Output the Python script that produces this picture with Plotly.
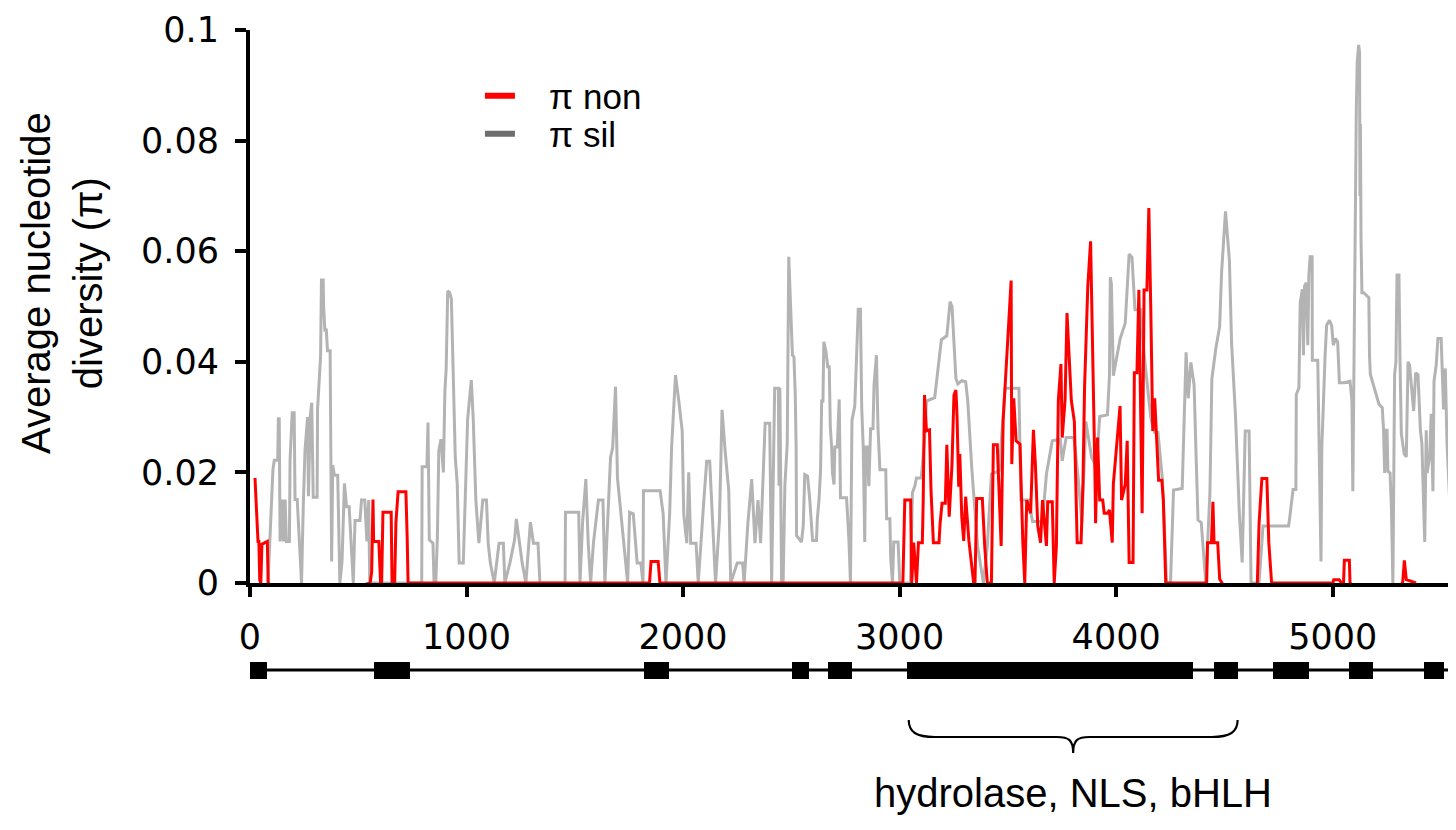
import plotly.graph_objects as go

# sliding-window nucleotide diversity: (position, pi)
pi_sil = [
    (83, 0), (106, 0.0205), (112, 0.0222), (128, 0.0222), (131, 0.0297), (135, 0.0297), (139, 0.0075),
    (148, 0.0151), (154, 0.0075), (162, 0.0151), (168, 0.0075), (182, 0.0075), (185, 0.0222), (195, 0.0308),
    (204, 0.0308), (208, 0.0151), (218, 0.0151), (238, 0), (246, 0.014), (254, 0.024), (266, 0.030),
    (270, 0.0157), (278, 0.030), (285, 0.0326), (292, 0.0155), (310, 0.0155), (312, 0.0315), (318, 0.035),
    (326, 0.041), (330, 0.0548), (338, 0.0548), (340, 0.050), (346, 0.0455), (352, 0.046), (358, 0.042),
    (370, 0.042), (377, 0.0039), (382, 0.0213), (390, 0.0195), (405, 0.0195), (415, 0), (425, 0.0039),
    (436, 0.018), (446, 0.0138), (458, 0.0138), (477, 0), (485, 0.0113), (508, 0.0113), (515, 0.015),
    (530, 0.015), (540, 0.0075), (548, 0.015), (553, 0), (793, 0), (795, 0.021), (817, 0.021), (822, 0.029),
    (828, 0.0078), (845, 0.0072), (850, 0), (858, 0), (865, 0.0078), (872, 0.024), (882, 0.026), (893, 0.020),
    (900, 0.0346), (906, 0.0388), (913, 0.0528), (922, 0.0525), (930, 0.0513), (937, 0.040), (948, 0.0227),
    (957, 0.018), (966, 0.0036), (985, 0.0036), (995, 0.015), (1005, 0.0296), (1022, 0.0367), (1031, 0.0296),
    (1043, 0.015), (1057, 0.0072), (1075, 0.015), (1092, 0.015), (1100, 0.0072), (1110, 0.0036), (1128, 0),
    (1150, 0.0072), (1170, 0.0072), (1177, 0), (1200, 0.0036), (1222, 0.0078), (1230, 0.0116), (1243, 0.0078),
    (1257, 0.0036), (1274, 0), (1295, 0.011), (1309, 0.0072), (1330, 0.0072), (1339, 0), (1455, 0),
    (1457, 0.0128), (1518, 0.0128), (1524, 0), (1536, 0.011), (1551, 0.0188), (1562, 0.0072), (1573, 0),
    (1586, 0.0072), (1609, 0.015), (1630, 0.015), (1639, 0), (1656, 0.0167), (1665, 0.0227), (1675, 0.0245),
    (1688, 0.0355), (1697, 0.019), (1710, 0.0137), (1727, 0.0072), (1744, 0), (1753, 0.0128), (1770, 0.0125),
    (1788, 0.0036), (1805, 0.0036), (1815, 0), (1817, 0.0167), (1894, 0.0167), (1908, 0.0125), (1921, 0),
    (1938, 0.0125), (1947, 0.0245), (1965, 0.0376), (1980, 0.033), (1996, 0.0275), (2003, 0.0125),
    (2017, 0.0072), (2026, 0.020), (2035, 0.0072), (2060, 0.0072), (2070, 0), (2096, 0.015), (2109, 0.022),
    (2123, 0.022), (2137, 0.0113), (2150, 0), (2168, 0.0113), (2180, 0.0313), (2194, 0.024), (2211, 0.0167),
    (2220, 0), (2250, 0.0036), (2275, 0.0036), (2282, 0), (2299, 0.0107), (2317, 0.0188), (2332, 0.0072),
    (2346, 0.015), (2358, 0.0072), (2379, 0.0289), (2400, 0.0289), (2409, 0), (2423, 0.0352), (2440, 0.0352),
    (2443, 0.0176), (2447, 0.0353), (2455, 0), (2462, 0), (2470, 0.0175), (2481, 0.0252), (2488, 0.059),
    (2496, 0.0501), (2505, 0.0412), (2512, 0.0409), (2518, 0.0341), (2522, 0.0249), (2524, 0.0086),
    (2547, 0.0074), (2555, 0.0104), (2562, 0.0196), (2575, 0.0193), (2585, 0.0151), (2592, 0.011),
    (2598, 0.0077), (2616, 0.0077), (2620, 0.0116), (2628, 0.0151), (2635, 0.0205), (2640, 0.0329),
    (2646, 0.0329), (2650, 0.0436), (2660, 0.0418), (2668, 0.0391), (2675, 0.0391), (2680, 0.0282),
    (2686, 0.0246), (2690, 0.0199), (2697, 0.0178), (2701, 0.0246), (2712, 0.0246), (2721, 0.0332),
    (2727, 0.0154), (2755, 0.0154), (2766, 0.0077), (2773, 0), (2780, 0.0294), (2793, 0.032), (2809, 0.0495),
    (2819, 0.0495), (2825, 0.0317), (2832, 0.0246), (2839, 0.0074), (2843, 0.0246), (2850, 0.0246),
    (2858, 0.0175), (2866, 0.0279), (2877, 0.0279), (2882, 0.0359), (2893, 0.0412), (2900, 0.0282),
    (2909, 0.0205), (2936, 0.0205), (2940, 0.0116), (2955, 0.0116), (2959, 0.0044), (2967, 0), (2973, 0.0074),
    (2993, 0.0074), (3001, 0), (3050, 0), (3059, 0.0163), (3070, 0.0175), (3078, 0.019), (3100, 0.019),
    (3115, 0.0258), (3124, 0.0329), (3162, 0.0335), (3182, 0.0409), (3193, 0.044), (3218, 0.0447),
    (3233, 0.0509), (3242, 0.05), (3251, 0.0423), (3260, 0.037), (3269, 0.036), (3287, 0.0366), (3305, 0.0364),
    (3315, 0.0328), (3333, 0.0209), (3360, 0.0067), (3387, 0), (3405, 0.0067), (3424, 0.0197), (3460, 0.0203),
    (3487, 0.0352), (3551, 0.0352), (3560, 0.015), (3596, 0.015), (3614, 0.0111), (3660, 0.0111),
    (3678, 0.0197), (3705, 0.0257), (3742, 0.026), (3751, 0.0221), (3769, 0.0263), (3805, 0.0263),
    (3824, 0.0192), (3842, 0.0109), (3860, 0.0292), (3887, 0.0227), (3909, 0.0209), (3924, 0.0301),
    (3960, 0.0304), (3969, 0.0375), (3973, 0.0553), (3978, 0.0541), (3987, 0.0375), (4018, 0.0441),
    (4042, 0.047), (4060, 0.0595), (4073, 0.0589), (4087, 0.0494), (4114, 0.0494), (4127, 0.0423),
    (4160, 0.0298), (4178, 0.0272), (4193, 0.0272), (4214, 0.0186), (4233, 0), (4251, 0), (4265, 0.0168),
    (4305, 0.0171), (4323, 0.0417), (4333, 0.0334), (4345, 0.0399), (4360, 0.0358), (4369, 0.0233),
    (4378, 0.0114), (4393, 0.0109), (4414, 0), (4433, 0.0162), (4442, 0.0369), (4460, 0.0423), (4478, 0.0464),
    (4487, 0.0562), (4505, 0.0672), (4523, 0.0583), (4533, 0.0435), (4551, 0.0304), (4569, 0.0126),
    (4582, 0.0037), (4596, 0.0275), (4614, 0.0275), (4623, 0), (4660, 0), (4678, 0.0103), (4796, 0.0103),
    (4801, 0.0116), (4817, 0.0169), (4830, 0.0169), (4832, 0.0341), (4844, 0.0353), (4850, 0.0507),
    (4860, 0.0531), (4865, 0.0412), (4870, 0.0537), (4878, 0.0543), (4885, 0.043), (4890, 0.0557),
    (4896, 0.059), (4905, 0.059), (4906, 0.0403), (4931, 0.0403), (4946, 0.0039), (4950, 0.0246), (4954, 0.030),
    (4965, 0.0412), (4972, 0.0466), (4985, 0.0475), (4995, 0.0466), (5003, 0.043), (5013, 0.0442),
    (5023, 0.0436), (5031, 0.0362), (5054, 0.0362), (5080, 0.0365), (5089, 0.0329), (5093, 0.0166),
    (5096, 0.0329), (5101, 0.0569), (5105, 0.076), (5109, 0.0854), (5113, 0.094), (5120, 0.0973),
    (5124, 0.096), (5126, 0.070), (5128, 0.083), (5131, 0.062), (5135, 0.0525), (5143, 0.0525),
    (5167, 0.0516), (5170, 0.0412), (5174, 0.0377), (5214, 0.0323), (5229, 0.0317), (5235, 0.0276),
    (5240, 0.0199), (5245, 0.0276), (5251, 0.0276), (5255, 0.0202), (5265, 0.0199), (5271, 0.0139),
    (5278, 0), (5286, 0.0377), (5292, 0.040), (5297, 0.0557), (5306, 0.0557), (5311, 0.040), (5317, 0.027),
    (5330, 0.0234), (5340, 0.0228), (5348, 0.040), (5355, 0.0394), (5363, 0.0359), (5374, 0.0311),
    (5383, 0.038), (5394, 0.0377), (5405, 0.0276), (5412, 0.0252), (5425, 0.0074), (5432, 0.0276),
    (5436, 0.0199), (5448, 0.0228), (5455, 0.0306), (5463, 0.0166), (5468, 0.0365), (5478, 0.0394),
    (5486, 0.0442), (5501, 0.0442), (5506, 0.0383), (5512, 0.0314), (5520, 0.0388), (5528, 0.0252),
    (5540, 0.0151),
]

pi_non = [
    (23, 0.019), (26, 0.0163), (32, 0.0125), (37, 0.0075), (41, 0.0075), (45, 0.0005), (50, 0), (55, 0.007),
    (80, 0.0075), (84, 0), (95, -0.0005), (200, -0.0009), (400, -0.0008), (520, -0.0004), (555, 0),
    (562, 0.002), (568, 0.0151), (571, 0.0075), (595, 0.0075), (600, 0.0015), (603, 0), (608, 0),
    (614, 0.0128), (652, 0.0128), (656, 0), (668, 0), (674, 0.011), (684, 0.0165), (720, 0.0165), (726, 0.008),
    (730, 0), (1845, 0), (1852, 0.0039), (1885, 0.0039), (1893, 0), (3015, 0), (3018, 0.0077), (3024, 0.015),
    (3051, 0.015), (3056, 0), (3065, 0.0073), (3078, 0), (3087, 0.0073), (3105, 0.0073), (3109, 0.015),
    (3115, 0.034), (3124, 0.0275), (3138, 0.0277), (3145, 0.0168), (3156, 0.0073), (3182, 0.0073),
    (3187, 0.0108), (3196, 0.0144), (3211, 0.0144), (3218, 0.025), (3229, 0.012), (3242, 0.0215),
    (3251, 0.034), (3260, 0.0349), (3265, 0.0304), (3273, 0.0174), (3278, 0.0233), (3287, 0.012),
    (3296, 0.0076), (3305, 0.0156), (3320, 0.0076), (3342, 0), (3348, 0), (3356, 0.0153), (3382, 0.0153),
    (3393, 0.0067), (3405, 0), (3424, 0), (3433, 0.025), (3451, 0.025), (3460, 0.015), (3469, 0.0067),
    (3478, 0.0293), (3491, 0.039), (3502, 0.047), (3515, 0.0547), (3518, 0.0215), (3527, 0.0334),
    (3538, 0.0257), (3556, 0.0251), (3569, 0.0073), (3578, 0), (3587, 0.015), (3605, 0.0126), (3618, 0.0277),
    (3627, 0.0215), (3638, 0.0103), (3651, 0.0073), (3660, 0.015), (3678, 0.0067), (3684, 0.0147),
    (3705, 0.0147), (3714, 0), (3724, 0.0067), (3733, 0.033), (3745, 0.0396), (3751, 0.0263), (3764, 0.033),
    (3773, 0.0488), (3782, 0.0417), (3793, 0.033), (3807, 0.0292), (3820, 0.0073), (3838, 0.0073),
    (3847, 0.0185), (3854, 0.0352), (3864, 0.05), (3869, 0.0536), (3882, 0.0618), (3887, 0.0512),
    (3896, 0.0393), (3902, 0.0197), (3905, 0.0108), (3914, 0.0263), (3924, 0.015), (3938, 0.015),
    (3945, 0.0126), (3960, 0.0126), (3969, 0.0132), (3982, 0.0073), (3987, 0.0179), (4005, 0.0257),
    (4018, 0.032), (4025, 0.015), (4042, 0.0179), (4051, 0.0257), (4060, 0.0037), (4078, 0.0037),
    (4084, 0.038), (4096, 0.038), (4105, 0.053), (4120, 0.0126), (4129, 0.053), (4142, 0.053), (4151, 0.0678),
    (4160, 0.0494), (4169, 0.0275), (4178, 0.0334), (4189, 0.0245), (4196, 0.0186), (4211, 0.0186),
    (4218, 0.015), (4229, 0), (4418, 0), (4422, 0.0073), (4440, 0.0073), (4447, 0.0147), (4452, 0.0073),
    (4469, 0.0073), (4478, 0.0007), (4500, -0.0007), (4620, -0.0007), (4652, 0), (4660, 0.0108),
    (4673, 0.0189), (4696, 0.0189), (4705, 0.0073), (4718, 0), (5001, 0), (5005, 0.0006), (5030, 0.0006),
    (5040, 0), (5050, 0), (5054, 0.0041), (5077, 0.0041), (5080, 0), (5100, -0.0006), (5300, -0.0007),
    (5323, 0), (5331, 0.0041), (5340, 0.0006), (5385, 0),
]

# gene model (exon boxes on an intron line)
exon_start = [-25, 572, 1818, 2501, 2668, 3035, 4451, 4726, 5075, 5422]
exon_end = [78, 738, 1934, 2580, 2778, 4355, 4564, 4892, 5186, 5512]
gene_span = [-25, 5570]

# bracketed domain region
domain_span = [3042, 4561]
domain_label = "hydrolase, NLS, bHLH"

x_ticks = [0, 1000, 2000, 3000, 4000, 5000]
y_ticks = [0, 0.02, 0.04, 0.06, 0.08, 0.1]
y_tick_text = ["0", "0.02", "0.04", "0.06", "0.08", "0.1"]

SANS = "Liberation Sans, Arial, Helvetica, sans-serif"
TICKFONT = "DejaVu Sans, Verdana, sans-serif"
SIL_GREY = "#b3b3b3"
NON_RED = "#ff0000"
GENE_ROW = 168  # row of the gene model on the helper axis (1 unit = 1 px)
PAD = "\u00a0\u00a0\u00a0"  # gap between legend swatch and label

sil_x, sil_y = zip(*pi_sil)
non_x, non_y = zip(*pi_non)

fig = go.Figure()

fig.add_trace(go.Scatter(x=sil_x, y=sil_y, mode="lines", line=dict(color=SIL_GREY, width=3),
                         showlegend=False, hoverinfo="skip"))
fig.add_trace(go.Scatter(x=non_x, y=non_y, mode="lines", line=dict(color=NON_RED, width=3),
                         showlegend=False, hoverinfo="skip"))

# legend entries (thicker swatches than the plotted lines), one legend per row
fig.add_trace(go.Scatter(x=[None], y=[None], mode="lines", name=PAD + "\u03c0 non",
                         line=dict(color=NON_RED, width=6), legend="legend"))
fig.add_trace(go.Scatter(x=[None], y=[None], mode="lines", name=PAD + "\u03c0 sil",
                         line=dict(color="#6e6e6e", width=6), legend="legend2"))

# gene model on the lower helper axis
fig.add_trace(go.Scatter(x=gene_span, y=[GENE_ROW, GENE_ROW], mode="lines",
                         line=dict(color="black", width=3), yaxis="y2",
                         showlegend=False, hoverinfo="skip"))
fig.add_trace(go.Bar(x=[e - s for s, e in zip(exon_start, exon_end)], base=exon_start,
                     y=[GENE_ROW] * len(exon_start), orientation="h", width=17,
                     marker=dict(color="black", line=dict(width=0)), yaxis="y2",
                     showlegend=False, hoverinfo="skip"))

# curly brace under the domain region
x0, x1 = domain_span
xm = (x0 + x1) / 2
brace = (f"M{x0},118 C{x0},106 {x0 + 35},101 {x0 + 120},101 L{xm - 75},101 "
         f"C{xm - 20},101 {xm},98 {xm},85 C{xm},98 {xm + 20},101 {xm + 75},101 "
         f"L{x1 - 120},101 C{x1 - 35},101 {x1},106 {x1},118")
fig.add_shape(type="path", path=brace, xref="x", yref="y2",
              line=dict(color="black", width=2.2))
fig.add_annotation(x=xm, y=45, xref="x", yref="y2", text=domain_label, showarrow=False,
                   font=dict(family=SANS, size=40, color="black"))

fig.add_annotation(x=-0.1564, y=0.6869, xref="paper", yref="paper", textangle=-90,
                   xanchor="center", yanchor="middle",
                   text="Average nucleotide<br>diversity (\u03c0)", showarrow=False,
                   font=dict(family=SANS, size=40, color="black"))

axis_common = dict(showline=True, linecolor="black", linewidth=4, ticks="outside",
                   tickcolor="black", tickwidth=4, showgrid=False, zeroline=False,
                   layer="below traces", ticklabeloverflow="allow",
                   tickfont=dict(family=TICKFONT, size=35, color="black"))

legend_common = dict(xanchor="left", yanchor="middle", bgcolor="rgba(0,0,0,0)",
                     font=dict(family=SANS, size=35, color="black"))

fig.update_layout(
    width=1456, height=830,
    margin=dict(l=242, r=12, t=22, b=0, autoexpand=False),
    plot_bgcolor="white", paper_bgcolor="white",
    bargap=0,
    legend=dict(x=0.1913, y=0.9183, **legend_common),
    legend2=dict(x=0.1913, y=0.8713, **legend_common),
    xaxis=dict(range=[0, 5551], domain=[0, 1], anchor="y", tickvals=x_ticks, ticklen=10,
               ticklabelstandoff=10, **axis_common),
    yaxis=dict(range=[0, 0.1], domain=[0.3156, 1], anchor="x", tickvals=y_ticks,
               ticktext=y_tick_text, ticklen=11, ticklabelstandoff=9, **axis_common),
    yaxis2=dict(range=[0, 242.4], domain=[0, 0.3], anchor="x", visible=False, fixedrange=True),
)

fig.write_html("out.html")
